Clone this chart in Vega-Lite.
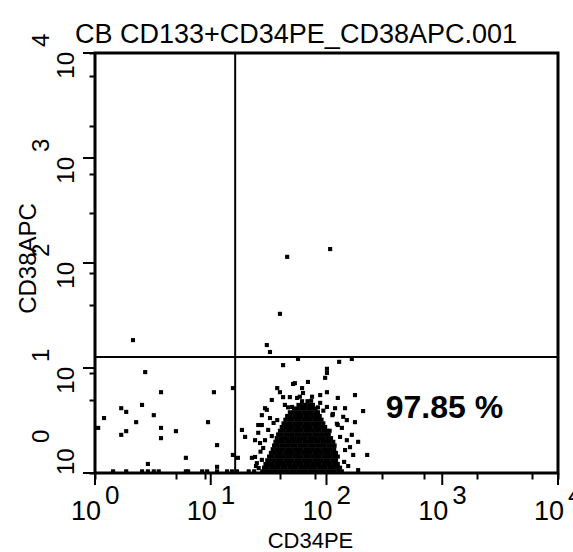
{
  "$schema": "https://vega.github.io/schema/vega-lite/v6.json",
  "width": 463,
  "height": 420,
  "autosize": {"type": "none"},
  "padding": {"left": 95, "top": 53, "right": 15, "bottom": 79},
  "background": "white",
  "config": {
    "view": {"stroke": "black", "strokeWidth": 3},
    "axis": {"domain": false, "grid": false, "labels": false, "ticks": true, "tickColor": "black", "tickSize": 6, "tickWidth": 2}
  },
  "title": {
    "text": "CB CD133+CD34PE_CD38APC.001",
    "anchor": "start",
    "frame": "group",
    "dx": -20,
    "dy": 28,
    "offset": 13,
    "font": "Liberation Sans",
    "fontSize": 27,
    "fontWeight": "normal",
    "color": "black"
  },
  "datasets": {
    "events": [
      {"CD34PE": 370, "CD38APC": 4}, {"CD34PE": 378, "CD38APC": 4}, {"CD34PE": 386, "CD38APC": 4}, {"CD34PE": 394, "CD38APC": 4}, {"CD34PE": 402, "CD38APC": 4}, {"CD34PE": 410, "CD38APC": 4}, {"CD34PE": 418, "CD38APC": 4}, {"CD34PE": 426, "CD38APC": 4}, {"CD34PE": 434, "CD38APC": 4}, {"CD34PE": 442, "CD38APC": 4}, {"CD34PE": 450, "CD38APC": 4}, {"CD34PE": 458, "CD38APC": 4}, {"CD34PE": 466, "CD38APC": 4}, {"CD34PE": 474, "CD38APC": 4}, {"CD34PE": 482, "CD38APC": 4}, {"CD34PE": 490, "CD38APC": 4}, {"CD34PE": 498, "CD38APC": 4}, {"CD34PE": 506, "CD38APC": 4}, {"CD34PE": 514, "CD38APC": 4}, {"CD34PE": 522, "CD38APC": 4}, {"CD34PE": 530, "CD38APC": 4}, {"CD34PE": 538, "CD38APC": 4}, {"CD34PE": 546, "CD38APC": 4},
      {"CD34PE": 374, "CD38APC": 13}, {"CD34PE": 382, "CD38APC": 13}, {"CD34PE": 390, "CD38APC": 13}, {"CD34PE": 398, "CD38APC": 13}, {"CD34PE": 406, "CD38APC": 13}, {"CD34PE": 414, "CD38APC": 13}, {"CD34PE": 422, "CD38APC": 13}, {"CD34PE": 430, "CD38APC": 13}, {"CD34PE": 438, "CD38APC": 13}, {"CD34PE": 446, "CD38APC": 13}, {"CD34PE": 454, "CD38APC": 13}, {"CD34PE": 462, "CD38APC": 13}, {"CD34PE": 470, "CD38APC": 13}, {"CD34PE": 478, "CD38APC": 13}, {"CD34PE": 486, "CD38APC": 13}, {"CD34PE": 494, "CD38APC": 13}, {"CD34PE": 502, "CD38APC": 13}, {"CD34PE": 510, "CD38APC": 13}, {"CD34PE": 518, "CD38APC": 13}, {"CD34PE": 526, "CD38APC": 13}, {"CD34PE": 534, "CD38APC": 13}, {"CD34PE": 542, "CD38APC": 13},
      {"CD34PE": 377, "CD38APC": 22}, {"CD34PE": 385, "CD38APC": 22}, {"CD34PE": 393, "CD38APC": 22}, {"CD34PE": 401, "CD38APC": 22}, {"CD34PE": 409, "CD38APC": 22}, {"CD34PE": 417, "CD38APC": 22}, {"CD34PE": 425, "CD38APC": 22}, {"CD34PE": 433, "CD38APC": 22}, {"CD34PE": 441, "CD38APC": 22}, {"CD34PE": 449, "CD38APC": 22}, {"CD34PE": 457, "CD38APC": 22}, {"CD34PE": 465, "CD38APC": 22}, {"CD34PE": 473, "CD38APC": 22}, {"CD34PE": 481, "CD38APC": 22}, {"CD34PE": 489, "CD38APC": 22}, {"CD34PE": 497, "CD38APC": 22}, {"CD34PE": 505, "CD38APC": 22}, {"CD34PE": 513, "CD38APC": 22}, {"CD34PE": 521, "CD38APC": 22}, {"CD34PE": 529, "CD38APC": 22}, {"CD34PE": 537, "CD38APC": 22},
      {"CD34PE": 381, "CD38APC": 31}, {"CD34PE": 389, "CD38APC": 31}, {"CD34PE": 397, "CD38APC": 31}, {"CD34PE": 405, "CD38APC": 31}, {"CD34PE": 413, "CD38APC": 31}, {"CD34PE": 421, "CD38APC": 31}, {"CD34PE": 429, "CD38APC": 31}, {"CD34PE": 437, "CD38APC": 31}, {"CD34PE": 445, "CD38APC": 31}, {"CD34PE": 453, "CD38APC": 31}, {"CD34PE": 461, "CD38APC": 31}, {"CD34PE": 469, "CD38APC": 31}, {"CD34PE": 477, "CD38APC": 31}, {"CD34PE": 485, "CD38APC": 31}, {"CD34PE": 493, "CD38APC": 31}, {"CD34PE": 501, "CD38APC": 31}, {"CD34PE": 509, "CD38APC": 31}, {"CD34PE": 517, "CD38APC": 31}, {"CD34PE": 525, "CD38APC": 31}, {"CD34PE": 533, "CD38APC": 31},
      {"CD34PE": 385, "CD38APC": 40}, {"CD34PE": 393, "CD38APC": 40}, {"CD34PE": 401, "CD38APC": 40}, {"CD34PE": 409, "CD38APC": 40}, {"CD34PE": 417, "CD38APC": 40}, {"CD34PE": 425, "CD38APC": 40}, {"CD34PE": 433, "CD38APC": 40}, {"CD34PE": 441, "CD38APC": 40}, {"CD34PE": 449, "CD38APC": 40}, {"CD34PE": 457, "CD38APC": 40}, {"CD34PE": 465, "CD38APC": 40}, {"CD34PE": 473, "CD38APC": 40}, {"CD34PE": 481, "CD38APC": 40}, {"CD34PE": 489, "CD38APC": 40}, {"CD34PE": 497, "CD38APC": 40}, {"CD34PE": 505, "CD38APC": 40}, {"CD34PE": 513, "CD38APC": 40}, {"CD34PE": 521, "CD38APC": 40}, {"CD34PE": 529, "CD38APC": 40}, {"CD34PE": 537, "CD38APC": 40},
      {"CD34PE": 389, "CD38APC": 49}, {"CD34PE": 397, "CD38APC": 49}, {"CD34PE": 405, "CD38APC": 49}, {"CD34PE": 413, "CD38APC": 49}, {"CD34PE": 421, "CD38APC": 49}, {"CD34PE": 429, "CD38APC": 49}, {"CD34PE": 437, "CD38APC": 49}, {"CD34PE": 445, "CD38APC": 49}, {"CD34PE": 453, "CD38APC": 49}, {"CD34PE": 461, "CD38APC": 49}, {"CD34PE": 469, "CD38APC": 49}, {"CD34PE": 477, "CD38APC": 49}, {"CD34PE": 485, "CD38APC": 49}, {"CD34PE": 493, "CD38APC": 49}, {"CD34PE": 501, "CD38APC": 49}, {"CD34PE": 509, "CD38APC": 49}, {"CD34PE": 517, "CD38APC": 49}, {"CD34PE": 525, "CD38APC": 49}, {"CD34PE": 533, "CD38APC": 49},
      {"CD34PE": 393, "CD38APC": 58}, {"CD34PE": 401, "CD38APC": 58}, {"CD34PE": 409, "CD38APC": 58}, {"CD34PE": 417, "CD38APC": 58}, {"CD34PE": 425, "CD38APC": 58}, {"CD34PE": 433, "CD38APC": 58}, {"CD34PE": 441, "CD38APC": 58}, {"CD34PE": 449, "CD38APC": 58}, {"CD34PE": 457, "CD38APC": 58}, {"CD34PE": 465, "CD38APC": 58}, {"CD34PE": 473, "CD38APC": 58}, {"CD34PE": 481, "CD38APC": 58}, {"CD34PE": 489, "CD38APC": 58}, {"CD34PE": 497, "CD38APC": 58}, {"CD34PE": 505, "CD38APC": 58}, {"CD34PE": 513, "CD38APC": 58}, {"CD34PE": 521, "CD38APC": 58}, {"CD34PE": 529, "CD38APC": 58},
      {"CD34PE": 396, "CD38APC": 67}, {"CD34PE": 404, "CD38APC": 67}, {"CD34PE": 412, "CD38APC": 67}, {"CD34PE": 420, "CD38APC": 67}, {"CD34PE": 428, "CD38APC": 67}, {"CD34PE": 436, "CD38APC": 67}, {"CD34PE": 444, "CD38APC": 67}, {"CD34PE": 452, "CD38APC": 67}, {"CD34PE": 460, "CD38APC": 67}, {"CD34PE": 468, "CD38APC": 67}, {"CD34PE": 476, "CD38APC": 67}, {"CD34PE": 484, "CD38APC": 67}, {"CD34PE": 492, "CD38APC": 67}, {"CD34PE": 500, "CD38APC": 67}, {"CD34PE": 508, "CD38APC": 67}, {"CD34PE": 516, "CD38APC": 67}, {"CD34PE": 524, "CD38APC": 67}, {"CD34PE": 530, "CD38APC": 67},
      {"CD34PE": 399, "CD38APC": 76}, {"CD34PE": 407, "CD38APC": 76}, {"CD34PE": 415, "CD38APC": 76}, {"CD34PE": 423, "CD38APC": 76}, {"CD34PE": 431, "CD38APC": 76}, {"CD34PE": 439, "CD38APC": 76}, {"CD34PE": 447, "CD38APC": 76}, {"CD34PE": 455, "CD38APC": 76}, {"CD34PE": 463, "CD38APC": 76}, {"CD34PE": 471, "CD38APC": 76}, {"CD34PE": 479, "CD38APC": 76}, {"CD34PE": 487, "CD38APC": 76}, {"CD34PE": 495, "CD38APC": 76}, {"CD34PE": 503, "CD38APC": 76}, {"CD34PE": 511, "CD38APC": 76}, {"CD34PE": 519, "CD38APC": 76}, {"CD34PE": 527, "CD38APC": 76},
      {"CD34PE": 402, "CD38APC": 85}, {"CD34PE": 410, "CD38APC": 85}, {"CD34PE": 418, "CD38APC": 85}, {"CD34PE": 426, "CD38APC": 85}, {"CD34PE": 434, "CD38APC": 85}, {"CD34PE": 442, "CD38APC": 85}, {"CD34PE": 450, "CD38APC": 85}, {"CD34PE": 458, "CD38APC": 85}, {"CD34PE": 466, "CD38APC": 85}, {"CD34PE": 474, "CD38APC": 85}, {"CD34PE": 482, "CD38APC": 85}, {"CD34PE": 490, "CD38APC": 85}, {"CD34PE": 498, "CD38APC": 85}, {"CD34PE": 506, "CD38APC": 85}, {"CD34PE": 514, "CD38APC": 85}, {"CD34PE": 522, "CD38APC": 85},
      {"CD34PE": 405, "CD38APC": 94}, {"CD34PE": 413, "CD38APC": 94}, {"CD34PE": 421, "CD38APC": 94}, {"CD34PE": 429, "CD38APC": 94}, {"CD34PE": 437, "CD38APC": 94}, {"CD34PE": 445, "CD38APC": 94}, {"CD34PE": 453, "CD38APC": 94}, {"CD34PE": 461, "CD38APC": 94}, {"CD34PE": 469, "CD38APC": 94}, {"CD34PE": 477, "CD38APC": 94}, {"CD34PE": 485, "CD38APC": 94}, {"CD34PE": 493, "CD38APC": 94}, {"CD34PE": 501, "CD38APC": 94}, {"CD34PE": 509, "CD38APC": 94}, {"CD34PE": 517, "CD38APC": 94},
      {"CD34PE": 409, "CD38APC": 103}, {"CD34PE": 417, "CD38APC": 103}, {"CD34PE": 425, "CD38APC": 103}, {"CD34PE": 433, "CD38APC": 103}, {"CD34PE": 441, "CD38APC": 103}, {"CD34PE": 449, "CD38APC": 103}, {"CD34PE": 457, "CD38APC": 103}, {"CD34PE": 465, "CD38APC": 103}, {"CD34PE": 473, "CD38APC": 103}, {"CD34PE": 481, "CD38APC": 103}, {"CD34PE": 489, "CD38APC": 103}, {"CD34PE": 497, "CD38APC": 103}, {"CD34PE": 505, "CD38APC": 103}, {"CD34PE": 513, "CD38APC": 103}, {"CD34PE": 519, "CD38APC": 103},
      {"CD34PE": 413, "CD38APC": 112}, {"CD34PE": 421, "CD38APC": 112}, {"CD34PE": 429, "CD38APC": 112}, {"CD34PE": 437, "CD38APC": 112}, {"CD34PE": 445, "CD38APC": 112}, {"CD34PE": 453, "CD38APC": 112}, {"CD34PE": 461, "CD38APC": 112}, {"CD34PE": 469, "CD38APC": 112}, {"CD34PE": 477, "CD38APC": 112}, {"CD34PE": 485, "CD38APC": 112}, {"CD34PE": 493, "CD38APC": 112}, {"CD34PE": 501, "CD38APC": 112}, {"CD34PE": 509, "CD38APC": 112},
      {"CD34PE": 417, "CD38APC": 121}, {"CD34PE": 425, "CD38APC": 121}, {"CD34PE": 433, "CD38APC": 121}, {"CD34PE": 441, "CD38APC": 121}, {"CD34PE": 449, "CD38APC": 121}, {"CD34PE": 457, "CD38APC": 121}, {"CD34PE": 465, "CD38APC": 121}, {"CD34PE": 473, "CD38APC": 121}, {"CD34PE": 481, "CD38APC": 121}, {"CD34PE": 489, "CD38APC": 121}, {"CD34PE": 497, "CD38APC": 121}, {"CD34PE": 505, "CD38APC": 121},
      {"CD34PE": 421, "CD38APC": 130}, {"CD34PE": 429, "CD38APC": 130}, {"CD34PE": 437, "CD38APC": 130}, {"CD34PE": 445, "CD38APC": 130}, {"CD34PE": 453, "CD38APC": 130}, {"CD34PE": 461, "CD38APC": 130}, {"CD34PE": 469, "CD38APC": 130}, {"CD34PE": 477, "CD38APC": 130}, {"CD34PE": 485, "CD38APC": 130}, {"CD34PE": 493, "CD38APC": 130}, {"CD34PE": 501, "CD38APC": 130},
      {"CD34PE": 425, "CD38APC": 139}, {"CD34PE": 433, "CD38APC": 139}, {"CD34PE": 441, "CD38APC": 139}, {"CD34PE": 449, "CD38APC": 139}, {"CD34PE": 457, "CD38APC": 139}, {"CD34PE": 465, "CD38APC": 139}, {"CD34PE": 473, "CD38APC": 139}, {"CD34PE": 481, "CD38APC": 139}, {"CD34PE": 489, "CD38APC": 139}, {"CD34PE": 497, "CD38APC": 139},
      {"CD34PE": 431, "CD38APC": 148}, {"CD34PE": 439, "CD38APC": 148}, {"CD34PE": 447, "CD38APC": 148}, {"CD34PE": 455, "CD38APC": 148}, {"CD34PE": 463, "CD38APC": 148}, {"CD34PE": 471, "CD38APC": 148}, {"CD34PE": 479, "CD38APC": 148}, {"CD34PE": 487, "CD38APC": 148}, {"CD34PE": 493, "CD38APC": 148},
      {"CD34PE": 440, "CD38APC": 157}, {"CD34PE": 448, "CD38APC": 157}, {"CD34PE": 456, "CD38APC": 157}, {"CD34PE": 464, "CD38APC": 157}, {"CD34PE": 472, "CD38APC": 157}, {"CD34PE": 480, "CD38APC": 157}, {"CD34PE": 488, "CD38APC": 157},
      {"CD34PE": 450, "CD38APC": 166}, {"CD34PE": 458, "CD38APC": 166}, {"CD34PE": 466, "CD38APC": 166}, {"CD34PE": 474, "CD38APC": 166}, {"CD34PE": 482, "CD38APC": 166},
      {"CD34PE": 458, "CD38APC": 175}, {"CD34PE": 470, "CD38APC": 175}, {"CD34PE": 478, "CD38APC": 176},
      {"CD34PE": 380, "CD38APC": 312}, {"CD34PE": 387, "CD38APC": 295}, {"CD34PE": 416, "CD38APC": 263}, {"CD34PE": 449, "CD38APC": 278}, {"CD34PE": 513, "CD38APC": 254}, {"CD34PE": 540, "CD38APC": 271}, {"CD34PE": 568, "CD38APC": 278}, {"CD34PE": 513, "CD38APC": 244}, {"CD34PE": 509, "CD38APC": 232}, {"CD34PE": 471, "CD38APC": 222},
      {"CD34PE": 442, "CD38APC": 219}, {"CD34PE": 438, "CD38APC": 217}, {"CD34PE": 403, "CD38APC": 207}, {"CD34PE": 409, "CD38APC": 197}, {"CD34PE": 458, "CD38APC": 207}, {"CD34PE": 460, "CD38APC": 195}, {"CD34PE": 513, "CD38APC": 197}, {"CD34PE": 498, "CD38APC": 190}, {"CD34PE": 431, "CD38APC": 185}, {"CD34PE": 447, "CD38APC": 183},
      {"CD34PE": 453, "CD38APC": 186}, {"CD34PE": 575, "CD38APC": 190}, {"CD34PE": 537, "CD38APC": 183}, {"CD34PE": 305, "CD38APC": 207}, {"CD34PE": 420, "CD38APC": 166}, {"CD34PE": 436, "CD38APC": 161}, {"CD34PE": 498, "CD38APC": 171}, {"CD34PE": 513, "CD38APC": 161}, {"CD34PE": 376, "CD38APC": 158}, {"CD34PE": 380, "CD38APC": 154},
      {"CD34PE": 531, "CD38APC": 158}, {"CD34PE": 553, "CD38APC": 158}, {"CD34PE": 593, "CD38APC": 151}, {"CD34PE": 387, "CD38APC": 134}, {"CD34PE": 403, "CD38APC": 129}, {"CD34PE": 549, "CD38APC": 137}, {"CD34PE": 557, "CD38APC": 129}, {"CD34PE": 575, "CD38APC": 124}, {"CD34PE": 361, "CD38APC": 117}, {"CD34PE": 325, "CD38APC": 105},
      {"CD34PE": 332, "CD38APC": 88}, {"CD34PE": 354, "CD38APC": 80}, {"CD34PE": 365, "CD38APC": 73}, {"CD34PE": 372, "CD38APC": 61}, {"CD34PE": 557, "CD38APC": 80}, {"CD34PE": 568, "CD38APC": 93}, {"CD34PE": 582, "CD38APC": 76}, {"CD34PE": 553, "CD38APC": 56}, {"CD34PE": 571, "CD38APC": 44}, {"CD34PE": 305, "CD38APC": 44},
      {"CD34PE": 316, "CD38APC": 37}, {"CD34PE": 347, "CD38APC": 37}, {"CD34PE": 354, "CD38APC": 39}, {"CD34PE": 602, "CD38APC": 44}, {"CD34PE": 582, "CD38APC": 7}, {"CD34PE": 84, "CD38APC": 324}, {"CD34PE": 111, "CD38APC": 246}, {"CD34PE": 146, "CD38APC": 197}, {"CD34PE": 263, "CD38APC": 197}, {"CD34PE": 104, "CD38APC": 166},
      {"CD34PE": 58, "CD38APC": 158}, {"CD34PE": 69, "CD38APC": 149}, {"CD34PE": 130, "CD38APC": 141}, {"CD34PE": 20, "CD38APC": 134}, {"CD34PE": 91, "CD38APC": 124}, {"CD34PE": 250, "CD38APC": 124}, {"CD34PE": 146, "CD38APC": 110}, {"CD34PE": 69, "CD38APC": 102}, {"CD34PE": 58, "CD38APC": 93}, {"CD34PE": 179, "CD38APC": 102},
      {"CD34PE": 146, "CD38APC": 85}, {"CD34PE": 270, "CD38APC": 68}, {"CD34PE": 201, "CD38APC": 37}, {"CD34PE": 117, "CD38APC": 22}, {"CD34PE": 270, "CD38APC": 15}, {"CD34PE": 7, "CD38APC": 110},
      {"CD34PE": 369, "CD38APC": 117}, {"CD34PE": 383, "CD38APC": 105}, {"CD34PE": 391, "CD38APC": 90}, {"CD34PE": 361, "CD38APC": 98}, {"CD34PE": 376, "CD38APC": 80}, {"CD34PE": 366, "CD38APC": 52}, {"CD34PE": 358, "CD38APC": 24}, {"CD34PE": 362, "CD38APC": 12}, {"CD34PE": 395, "CD38APC": 122},
      {"CD34PE": 546, "CD38APC": 110}, {"CD34PE": 564, "CD38APC": 63}, {"CD34PE": 551, "CD38APC": 27}, {"CD34PE": 560, "CD38APC": 17}, {"CD34PE": 542, "CD38APC": 88}, {"CD34PE": 535, "CD38APC": 120}, {"CD34PE": 525, "CD38APC": 141}, {"CD34PE": 505, "CD38APC": 152},
      {"CD34PE": 391, "CD38APC": 178}, {"CD34PE": 416, "CD38APC": 185}, {"CD34PE": 369, "CD38APC": 141}, {"CD34PE": 427, "CD38APC": 160}, {"CD34PE": 480, "CD38APC": 186}, {"CD34PE": 493, "CD38APC": 160}, {"CD34PE": 526, "CD38APC": 144}, {"CD34PE": 537, "CD38APC": 117}, {"CD34PE": 369, "CD38APC": 32}, {"CD34PE": 356, "CD38APC": 17},
      {"CD34PE": 40, "CD38APC": 4}, {"CD34PE": 69, "CD38APC": 4}, {"CD34PE": 104, "CD38APC": 4}, {"CD34PE": 117, "CD38APC": 4}, {"CD34PE": 130, "CD38APC": 4}, {"CD34PE": 141, "CD38APC": 4}, {"CD34PE": 201, "CD38APC": 4}, {"CD34PE": 206, "CD38APC": 4}, {"CD34PE": 237, "CD38APC": 4}, {"CD34PE": 248, "CD38APC": 4}, {"CD34PE": 270, "CD38APC": 4}, {"CD34PE": 292, "CD38APC": 4}, {"CD34PE": 303, "CD38APC": 4}, {"CD34PE": 314, "CD38APC": 4}, {"CD34PE": 340, "CD38APC": 4}, {"CD34PE": 352, "CD38APC": 4},
      {"CD34PE": 425, "CD38APC": 527}, {"CD34PE": 520, "CD38APC": 546}, {"CD34PE": 409, "CD38APC": 388}
    ],
    "decades": [
      {"channel": 0, "exponent": "0"},
      {"channel": 256, "exponent": "1"},
      {"channel": 512, "exponent": "2"},
      {"channel": 768, "exponent": "3"},
      {"channel": 1024, "exponent": "4"}
    ],
    "gates": [{"CD34PE": 310, "CD38APC": 283}],
    "stats": [{"CD34PE": 643, "CD38APC": 134, "label": "97.85 %"}]
  },
  "layer": [
    {
      "data": {"name": "events"},
      "mark": {"type": "square", "size": 17, "color": "black", "opacity": 1},
      "encoding": {
        "x": {
          "field": "CD34PE", "type": "quantitative",
          "scale": {"domain": [0, 1024], "nice": false, "zero": false},
          "axis": {
            "values": [0, 77.06, 122.14, 154.13, 178.94, 199.21, 216.35, 231.19, 244.29, 256, 333.06, 378.14, 410.13, 434.94, 455.21, 472.35, 487.19, 500.29, 512, 589.06, 634.14, 666.13, 690.94, 711.21, 728.35, 743.19, 756.29, 768, 845.06, 890.14, 922.13, 946.94, 967.21, 984.35, 999.19, 1012.29, 1024],
            "title": "CD34PE",
            "titleFont": "Liberation Sans",
            "titleFontSize": 22,
            "titleFontWeight": "normal",
            "titleColor": "black",
            "titleX": 215,
            "titleY": 74,
            "titleBaseline": "alphabetic",
            "titleAlign": "center"
          }
        },
        "y": {
          "field": "CD38APC", "type": "quantitative",
          "scale": {"domain": [0, 1024], "nice": false, "zero": false},
          "axis": {
            "values": [0, 77.06, 122.14, 154.13, 178.94, 199.21, 216.35, 231.19, 244.29, 256, 333.06, 378.14, 410.13, 434.94, 455.21, 472.35, 487.19, 500.29, 512, 589.06, 634.14, 666.13, 690.94, 711.21, 728.35, 743.19, 756.29, 768, 845.06, 890.14, 922.13, 946.94, 967.21, 984.35, 999.19, 1012.29, 1024],
            "title": "CD38APC",
            "titleFont": "Liberation Sans",
            "titleFontSize": 24,
            "titleFontWeight": "normal",
            "titleColor": "black",
            "titleAngle": 270,
            "titleX": -60,
            "titleY": 205,
            "titleBaseline": "alphabetic",
            "titleAlign": "center"
          }
        }
      }
    },
    {
      "data": {"name": "decades"},
      "mark": {"type": "tick", "orient": "vertical", "size": 12, "thickness": 2, "yOffset": 6, "color": "black", "opacity": 1},
      "encoding": {
        "x": {"field": "channel", "type": "quantitative", "title": "CD34PE"},
        "y": {"datum": 0, "type": "quantitative", "title": "CD38APC"}
      }
    },
    {
      "data": {"name": "decades"},
      "mark": {"type": "tick", "orient": "horizontal", "size": 12, "thickness": 2, "xOffset": -6, "color": "black", "opacity": 1},
      "encoding": {
        "x": {"datum": 0, "type": "quantitative", "title": "CD34PE"},
        "y": {"field": "channel", "type": "quantitative", "title": "CD38APC"}
      }
    },
    {
      "data": {"name": "gates"},
      "mark": {"type": "rule", "color": "black", "strokeWidth": 2},
      "encoding": {
        "x": {"field": "CD34PE", "type": "quantitative", "title": "CD34PE"}
      }
    },
    {
      "data": {"name": "gates"},
      "mark": {"type": "rule", "color": "black", "strokeWidth": 2},
      "encoding": {
        "y": {"field": "CD38APC", "type": "quantitative", "title": "CD38APC"}
      }
    },
    {
      "data": {"name": "stats"},
      "mark": {"type": "text", "align": "left", "baseline": "alphabetic", "font": "Liberation Sans", "fontSize": 32, "fontWeight": "bold", "color": "black"},
      "encoding": {
        "x": {"field": "CD34PE", "type": "quantitative", "title": "CD34PE"},
        "y": {"field": "CD38APC", "type": "quantitative", "title": "CD38APC"},
        "text": {"field": "label"}
      }
    },
    {
      "data": {"name": "decades"},
      "mark": {"type": "text", "text": "10", "align": "right", "baseline": "alphabetic", "dx": 6, "dy": 47, "font": "Liberation Sans", "fontSize": 27, "color": "black"},
      "encoding": {
        "x": {"field": "channel", "type": "quantitative", "title": "CD34PE"},
        "y": {"datum": 0, "type": "quantitative", "title": "CD38APC"}
      }
    },
    {
      "data": {"name": "decades"},
      "mark": {"type": "text", "align": "left", "baseline": "alphabetic", "dx": 10, "dy": 31, "font": "Liberation Sans", "fontSize": 26, "color": "black"},
      "encoding": {
        "x": {"field": "channel", "type": "quantitative", "title": "CD34PE"},
        "y": {"datum": 0, "type": "quantitative", "title": "CD38APC"},
        "text": {"field": "exponent"}
      }
    },
    {
      "data": {"name": "decades"},
      "transform": [{"filter": "datum.channel > 0"}],
      "mark": {"type": "text", "text": "10", "angle": 270, "align": "right", "baseline": "alphabetic", "dx": 1, "dy": -21, "font": "Liberation Sans", "fontSize": 24, "color": "black"},
      "encoding": {
        "x": {"datum": 0, "type": "quantitative", "title": "CD34PE"},
        "y": {"field": "channel", "type": "quantitative", "title": "CD38APC"}
      }
    },
    {
      "data": {"name": "decades"},
      "transform": [{"filter": "datum.channel > 0"}],
      "mark": {"type": "text", "angle": 270, "align": "left", "baseline": "alphabetic", "dx": 6, "dy": -46, "font": "Liberation Sans", "fontSize": 24, "color": "black"},
      "encoding": {
        "x": {"datum": 0, "type": "quantitative", "title": "CD34PE"},
        "y": {"field": "channel", "type": "quantitative", "title": "CD38APC"},
        "text": {"field": "exponent"}
      }
    },
    {
      "data": {"name": "decades"},
      "transform": [{"filter": "datum.channel == 0"}],
      "mark": {"type": "text", "text": "10", "angle": 270, "align": "left", "baseline": "alphabetic", "dx": -2, "dy": -21, "font": "Liberation Sans", "fontSize": 24, "color": "black"},
      "encoding": {
        "x": {"datum": 0, "type": "quantitative", "title": "CD34PE"},
        "y": {"field": "channel", "type": "quantitative", "title": "CD38APC"}
      }
    },
    {
      "data": {"name": "decades"},
      "transform": [{"filter": "datum.channel == 0"}],
      "mark": {"type": "text", "angle": 270, "align": "left", "baseline": "alphabetic", "dx": 30, "dy": -46, "font": "Liberation Sans", "fontSize": 24, "color": "black"},
      "encoding": {
        "x": {"datum": 0, "type": "quantitative", "title": "CD34PE"},
        "y": {"field": "channel", "type": "quantitative", "title": "CD38APC"},
        "text": {"field": "exponent"}
      }
    }
  ]
}
